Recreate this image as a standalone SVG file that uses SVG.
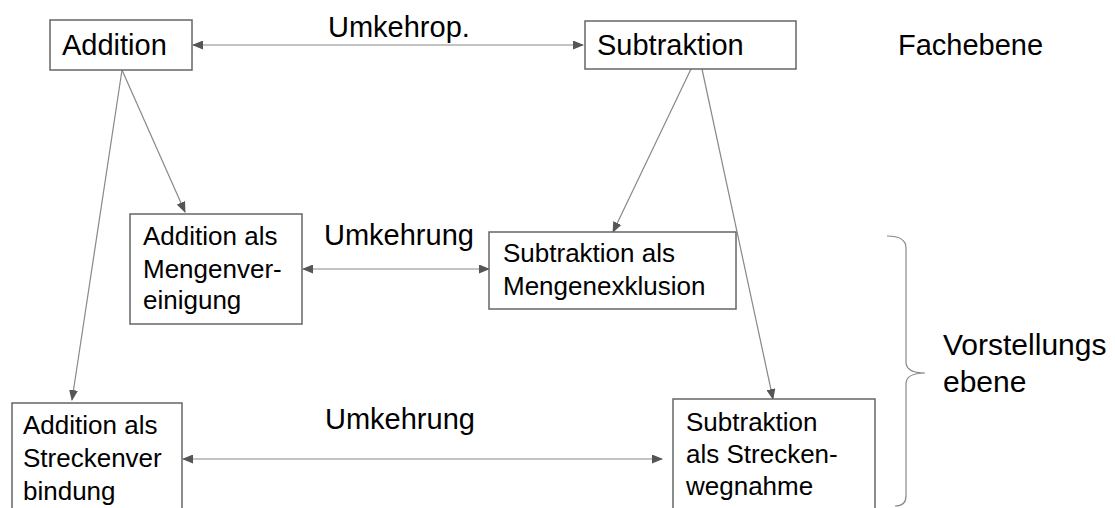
<svg xmlns="http://www.w3.org/2000/svg" width="1115" height="508" viewBox="0 0 1115 508">
<style>
.box{fill:#fff;stroke:#666;stroke-width:1.5}
.t{font-family:"Liberation Sans",Arial,sans-serif;fill:#000}
.big{font-size:29px}
.sm{font-size:26px}
.c{fill:none;stroke:#888;stroke-width:1.2}
</style>
<defs>
<marker id="ah" markerUnits="userSpaceOnUse" markerWidth="11" markerHeight="9" refX="10" refY="4.5" orient="auto-start-reverse" viewBox="0 0 11 9">
<path d="M0,0 L11,4.5 L0,9 z" fill="#555"/>
</marker>
</defs>
<rect width="1115" height="508" fill="#fff"/>
<g id="connectors">
<line class="c" x1="193" y1="45" x2="583" y2="45" marker-start="url(#ah)" marker-end="url(#ah)"/>
<line class="c" x1="303" y1="269" x2="489" y2="269" marker-start="url(#ah)" marker-end="url(#ah)"/>
<line class="c" x1="183" y1="459" x2="662" y2="459" marker-start="url(#ah)" marker-end="url(#ah)"/>
<line class="c" x1="122" y1="70" x2="72" y2="400" marker-end="url(#ah)"/>
<line class="c" x1="122" y1="70" x2="185" y2="212" marker-end="url(#ah)"/>
<line class="c" x1="691" y1="69" x2="613" y2="232" marker-end="url(#ah)"/>
<line class="c" x1="702" y1="69" x2="773" y2="399" marker-end="url(#ah)"/>
<path class="c" d="M887,236 Q906,236 906,248 L906,362 Q906,373 925,373 Q906,373 906,384 L906,496 Q906,506 895,506"/>
</g>
<g id="label-umkehrop"><text class="t big" x="328" y="37">Umkehrop.</text></g>
<g id="label-umkehrung1"><text class="t big" x="324" y="245">Umkehrung</text></g>
<g id="label-umkehrung2"><text class="t big" x="325" y="429">Umkehrung</text></g>
<g id="label-fachebene"><text class="t big" x="898" y="55">Fachebene</text></g>
<g id="label-vorstellungsebene"><text class="t" style="font-size:30px" x="943" y="355">Vorstellungs</text><text class="t" style="font-size:30px" x="943" y="392">ebene</text></g>
<g id="node-addition">
<rect class="box" x="50" y="20" width="142" height="50"/>
<text class="t big" x="62" y="55">Addition</text>
</g>
<g id="node-subtraktion">
<rect class="box" x="585" y="21" width="211" height="48"/>
<text class="t big" x="597" y="55">Subtraktion</text>
</g>
<g id="node-add-menge">
<rect class="box" x="130" y="214" width="172" height="110"/>
<text class="t sm" x="143" y="245">Addition als</text>
<text class="t sm" x="143" y="278">Mengenver-</text>
<text class="t sm" x="143" y="309">einigung</text>
</g>
<g id="node-sub-menge">
<rect class="box" x="489" y="232" width="247" height="77"/>
<text class="t sm" x="503" y="262">Subtraktion als</text>
<text class="t sm" x="503" y="295">Mengenexklusion</text>
</g>
<g id="node-add-strecke">
<rect class="box" x="12" y="403" width="170" height="115"/>
<text class="t sm" x="23" y="434">Addition als</text>
<text class="t sm" x="23" y="467">Streckenver</text>
<text class="t sm" x="23" y="500">bindung</text>
</g>
<g id="node-sub-strecke">
<rect class="box" x="673" y="399" width="202" height="119"/>
<text class="t sm" x="686" y="431">Subtraktion</text>
<text class="t sm" x="686" y="463">als Strecken-</text>
<text class="t sm" x="686" y="495">wegnahme</text>
</g>
</svg>
